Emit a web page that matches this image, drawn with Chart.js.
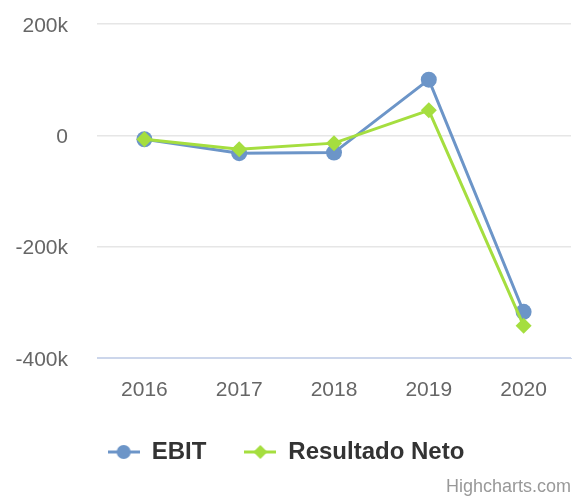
<!DOCTYPE html>
<html>
<head>
<meta charset="utf-8">
<script src="https://cdn.jsdelivr.net/npm/chart.js@4.4.1/dist/chart.umd.min.js"></script>
<style>
  html, body { margin: 0; padding: 0; background: #fff; }
  #wrap { position: relative; width: 579px; height: 497px; }
  #credits { position: absolute; right: 8px; bottom: 0px; font: 18px "Liberation Sans", Arial, sans-serif; color: #999; }
</style>
</head>
<body>
<div id="wrap">
  <canvas id="chart" width="579" height="497"></canvas>
  <div id="credits">Highcharts.com</div>
</div>
<script>
// values
var years = ["2016", "2017", "2018", "2019", "2020"];
var ebit = [-7000, -32000, -31000, 100000, -317000];
var resultadoNeto = [-7000, -25000, -14000, 45000, -342000];
var yTicks = [-400000, -200000, 0, 200000];

var blue = "#6c95c8";
var green = "#a5de3f";

// little legend symbol: a line with the marker on it
function legendSymbol(color, shape) {
  var c = document.createElement("canvas");
  c.width = 32; c.height = 16;
  var g = c.getContext("2d");
  g.strokeStyle = color;
  g.lineWidth = 3;
  g.beginPath(); g.moveTo(0, 8); g.lineTo(32, 8); g.stroke();
  g.fillStyle = color;
  g.beginPath();
  if (shape == "circle") {
    g.arc(16, 8, 7, 0, Math.PI * 2);
  } else {
    g.moveTo(16, 1); g.lineTo(23, 8); g.lineTo(16, 15); g.lineTo(9, 8); g.closePath();
  }
  g.fill();
  return c;
}

var canvas = document.getElementById("chart");
new Chart(canvas, {
  type: "line",
  data: {
    labels: years,
    datasets: [
      {
        label: "EBIT",
        data: ebit,
        order: 1,
        borderColor: blue,
        backgroundColor: blue,
        borderWidth: 3,
        pointStyle: "circle",
        pointRadius: 8,
        pointBorderWidth: 0,
        legendSymbol: legendSymbol(blue, "circle")
      },
      {
        label: "Resultado Neto",
        data: resultadoNeto,
        order: 0,
        borderColor: green,
        backgroundColor: green,
        borderWidth: 3,
        pointStyle: "rectRot",
        pointRadius: 8,
        pointBorderWidth: 0,
        legendSymbol: legendSymbol(green, "diamond")
      }
    ]
  },
  options: {
    responsive: false,
    animation: false,
    layout: { padding: { left: 0, right: 7, top: 24, bottom: 33 } },
    scales: {
      x: {
        offset: true,
        grid: { display: false },
        border: { color: "#ccd6eb", width: 1 },
        afterFit: function(axis) { axis.height = 44; },
        ticks: {
          color: "#666",
          padding: 12,
          maxRotation: 0,
          font: { family: "Liberation Sans", size: 21 }
        }
      },
      y: {
        min: -400000,
        max: 200000,
        afterBuildTicks: function(axis) {
          axis.ticks = yTicks.map(function(v) { return { value: v }; });
        },
        afterFit: function(axis) { axis.width = 97; },
        grid: {
          color: function(ctx) { return ctx.tick && ctx.tick.value == -400000 ? "#ccd6eb" : "#e6e6e6"; },
          lineWidth: 1.5,
          drawTicks: true,
          tickLength: 29,
          tickColor: "rgba(0,0,0,0)"
        },
        border: { display: false },
        ticks: {
          color: "#666",
          padding: 0,
          labelOffset: 2,
          font: { family: "Liberation Sans", size: 21 },
          callback: function(v) { return v == 0 ? "0" : (v / 1000) + "k"; }
        }
      }
    },
    plugins: {
      tooltip: { enabled: false },
      legend: {
        position: "bottom",
        maxHeight: 62,
        labels: {
          usePointStyle: true,
          pointStyleWidth: 32,
          padding: 38,
          color: "#333",
          font: { family: "Liberation Sans", size: 24, weight: "bold" },
          generateLabels: function(chart) {
            return chart.data.datasets.map(function(ds, i) {
              return {
                text: ds.label,
                pointStyle: ds.legendSymbol,
                fillStyle: ds.borderColor,
                strokeStyle: ds.borderColor,
                fontColor: "#333",
                lineWidth: 0,
                datasetIndex: i,
                hidden: false
              };
            });
          }
        }
      }
    }
  }
});
</script>
</body>
</html>
